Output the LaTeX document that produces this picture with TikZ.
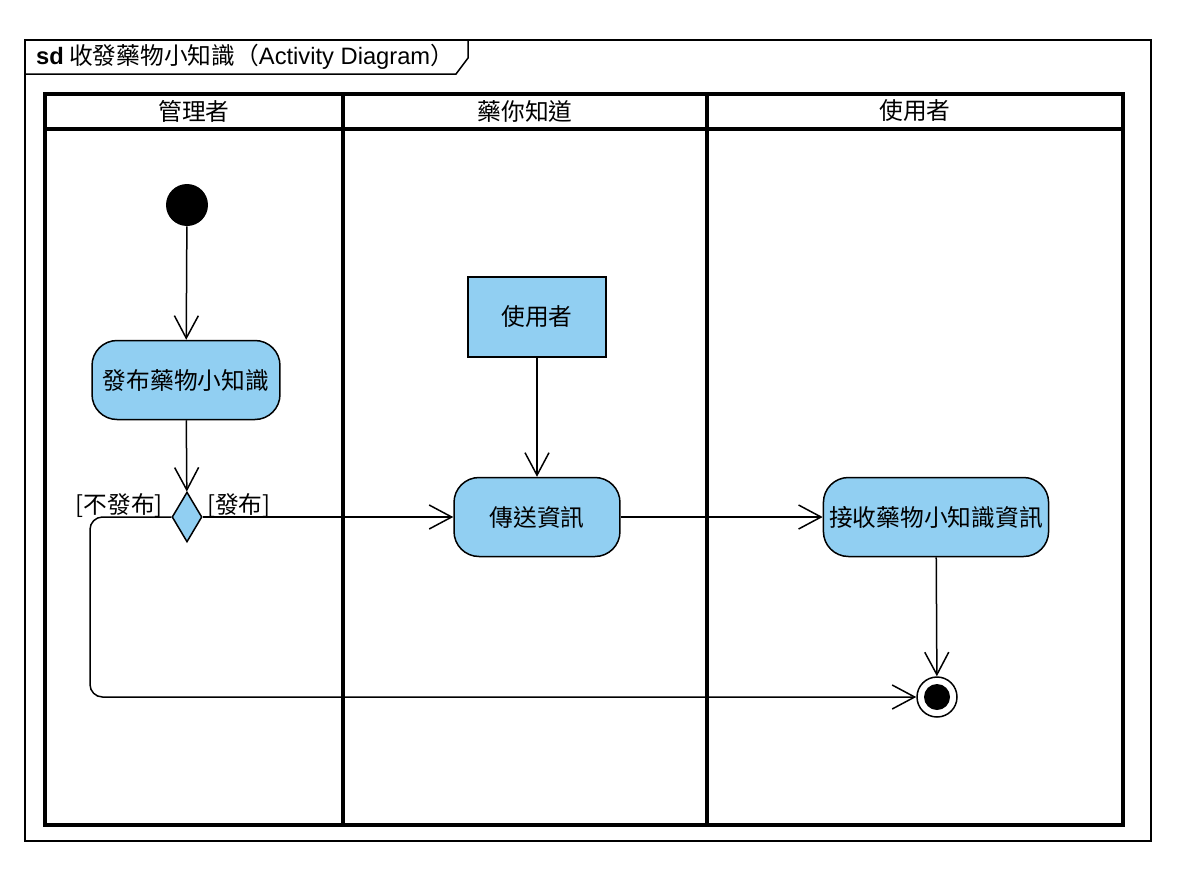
\documentclass[tikz,border=0pt]{standalone}
\usepackage{fontspec}
\setmainfont{Liberation Sans}
\newfontfamily\cjk{Noto Sans CJK TC}
\usetikzlibrary{shapes,arrows.meta}
\definecolor{actblue}{RGB}{145,207,242}

\begin{document}
\begin{tikzpicture}[x=0.02cm,y=-0.02cm,
      every node/.style={font=\cjk\fontsize{13.5}{16}\selectfont},
      action/.style={draw,fill=actblue,rounded corners=0.5cm,line width=0.03cm,minimum height=1.58cm},
      object/.style={draw,fill=actblue,line width=0.03cm,minimum width=2.76cm,minimum height=1.6cm},
      decision/.style={diamond,draw,fill=actblue,line width=0.03cm,inner sep=0pt,minimum width=0.6cm,minimum height=1cm},
      startnode/.style={circle,fill=black,inner sep=0pt,minimum size=0.84cm},
      endnode/.style={circle,draw,fill=white,line width=0.03cm,inner sep=0pt,minimum size=0.8cm},
      flow/.style={line width=0.03cm,-{Straight Barb[length=0.45cm,width=0.48cm]}},
      guard/.style={inner sep=1pt,yshift=-0.06cm},
      lane/.style={line width=0.08cm}]
    \useasboundingbox (0,0) rectangle (1202,886);
    % frame
    \draw[line width=0.03cm] (25,40) rectangle (1151,841);
    \draw[line width=0.03cm] (25,40) -- (468,40) -- (468,58) -- (456,74) -- (25,74);
    \node[anchor=west] (title) at (30,57) {\textbf{\rmfamily sd} 收發藥物小知識（{\rmfamily Activity Diagram}）};
    % swimlanes
    \draw[lane] (45,94) rectangle (1123,825);
    \draw[lane] (45,129) -- (1123,129);
    \draw[lane] (343,94) -- (343,825);
    \draw[lane] (707,94) -- (707,825);
    \node (lane1) at (194,111) {管理者};
    \node (lane2) at (525,111) {藥你知道};
    \node (lane3) at (915,111) {使用者};
    % nodes
    \node[startnode] (start) at (187,205) {};
    \node[action,minimum width=3.76cm] (publish) at (186,380) {發布藥物小知識};
    \node[decision] (choice) at (187,517) {};
    \node[object] (user) at (537,317) {使用者};
    \node[action,minimum width=3.32cm] (send) at (537,517) {傳送資訊};
    \node[action,minimum width=4.48cm] (receive) at (936,517) {接收藥物小知識資訊};
    \node[endnode] (end) at (937,697) {};
    \fill (end) circle (0.26cm);
    \coordinate (loop) at (90,697);
    % edges
    \draw[flow] (start) -- (publish);
    \draw[flow] (publish) -- (choice);
    \draw[flow] (choice.east) -- node[guard,pos=0,anchor=south west,xshift=0.04cm] {[發布]} (send);
    \draw[flow,rounded corners=0.25cm] (choice.west) node[guard,anchor=south east,xshift=-0.12cm] {[不發布]} -| (loop) -- (end);
    \draw[flow] (user) -- (send);
    \draw[flow] (send) -- (receive);
    \draw[flow] (receive) -- (end);
  \end{tikzpicture}
\end{document}
